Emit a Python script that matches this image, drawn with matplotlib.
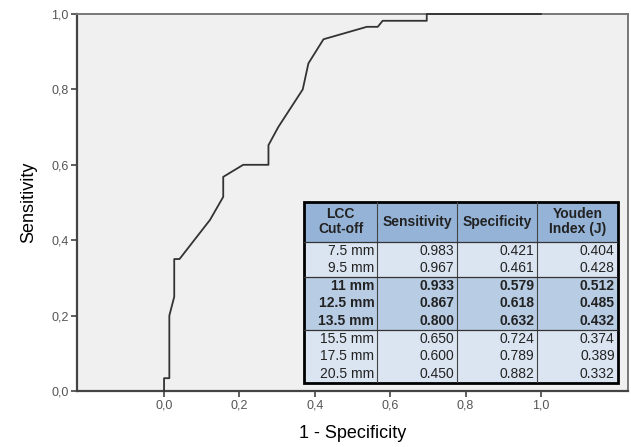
import numpy as np
import matplotlib.pyplot as plt
from matplotlib.patches import Rectangle

plt.rcParams['font.family'] = ['Liberation Sans', 'DejaVu Sans']

# ROC curve points
fpr = [0.0, 0.0, 0.014, 0.014, 0.027, 0.027, 0.041, 0.122, 0.157, 0.157,
       0.21, 0.277, 0.277, 0.303, 0.368, 0.383, 0.423, 0.538, 0.567, 0.58,
       0.697, 0.697, 1.0]
sens = [0.0, 0.034, 0.034, 0.20, 0.25, 0.35, 0.35, 0.454, 0.515, 0.568,
        0.60, 0.60, 0.652, 0.70, 0.80, 0.869, 0.933, 0.966, 0.966, 0.982,
        0.982, 1.0, 1.0]

# cut-off table
col_labels = ["LCC\nCut-off", "Sensitivity", "Specificity", "Youden\nIndex (J)"]
cutoffs = ["7.5 mm", "9.5 mm", "11 mm", "12.5 mm", "13.5 mm", "15.5 mm", "17.5 mm", "20.5 mm"]
tab_sens = [0.983, 0.967, 0.933, 0.867, 0.800, 0.650, 0.600, 0.450]
tab_spec = [0.421, 0.461, 0.579, 0.618, 0.632, 0.724, 0.789, 0.882]
tab_youden = [0.404, 0.428, 0.512, 0.485, 0.432, 0.374, 0.389, 0.332]
groups = [0, 0, 1, 1, 1, 2, 2, 2]

fig = plt.figure(figsize=(6.31, 4.47), dpi=100)
ax = fig.add_axes([77 / 631, 56 / 447, 551 / 631, 377 / 447])
ax.set_facecolor("#f0f0f0")
ax.plot(fpr, sens, color="#333333", lw=1.3, clip_on=False, zorder=5)
ax.set_xlim(-0.231, 1.231)
ax.set_ylim(0, 1.0)
ax.set_xticks([0, 0.2, 0.4, 0.6, 0.8, 1.0])
ax.set_xticklabels(["0,0", "0,2", "0,4", "0,6", "0,8", "1,0"])
ax.set_yticks([0, 0.2, 0.4, 0.6, 0.8, 1.0])
ax.set_yticklabels(["0,0", "0,2", "0,4", "0,6", "0,8", "1,0"])
ax.tick_params(labelsize=9, labelcolor="#555555", color="#444444", length=4, width=1.2, pad=2)
for s in ["left", "bottom"]:
    ax.spines[s].set_linewidth(1.6)
    ax.spines[s].set_color("#444444")
for s in ["top", "right"]:
    ax.spines[s].set_linewidth(1.4)
    ax.spines[s].set_color("#777777")
ax.set_xlabel("1 - Specificity", fontsize=13, labelpad=10)
ax.set_ylabel("Sensitivity", fontsize=13, labelpad=10)

# table drawn in pixel coordinates
tx0, ty_top, tx1, ty_bot = 304, 201.7, 617.7, 382.7
tab = fig.add_axes([tx0 / 631, (447 - ty_bot) / 447, (tx1 - tx0) / 631, (ty_bot - ty_top) / 447])
tab.set_xlim(tx0, tx1)
tab.set_ylim(ty_bot, ty_top)
tab.axis("off")
col_edges = [tx0, 377.3, 457.3, 537.3, tx1]
head_h = 40
row_h = (ty_bot - ty_top - head_h) / len(cutoffs)
group_col = ["#dbe5f1", "#b8cce4", "#dbe5f1"]

tab.add_patch(Rectangle((tx0, ty_top), tx1 - tx0, head_h, facecolor="#95b3d7", edgecolor="none"))
for i, g in enumerate(groups):
    y = ty_top + head_h + i * row_h
    tab.add_patch(Rectangle((tx0, y), tx1 - tx0, row_h, facecolor=group_col[g], edgecolor="none"))

for j, lab in enumerate(col_labels):
    cx = (col_edges[j] + col_edges[j + 1]) / 2
    tab.text(cx, ty_top + head_h / 2, lab, ha="center", va="center", fontsize=10,
             fontweight="bold", color="#222222", linespacing=1.1)

for i in range(len(cutoffs)):
    y = ty_top + head_h + (i + 0.5) * row_h
    w = "bold" if groups[i] == 1 else "normal"
    vals = [cutoffs[i], f"{tab_sens[i]:.3f}", f"{tab_spec[i]:.3f}", f"{tab_youden[i]:.3f}"]
    for j, v in enumerate(vals):
        tab.text(col_edges[j + 1] - 3, y, v, ha="right", va="center", fontsize=10,
                 fontweight=w, color="#222222")

for xe in col_edges[1:-1]:
    tab.plot([xe, xe], [ty_top, ty_bot], color="#444444", lw=0.8)
for k in [0, 2, 5]:
    y = ty_top + head_h + k * row_h
    tab.plot([tx0, tx1], [y, y], color="#333333", lw=0.9)
tab.add_patch(Rectangle((tx0, ty_top), tx1 - tx0, ty_bot - ty_top, facecolor="none",
                        edgecolor="black", lw=2.0, clip_on=False))

fig.savefig("out.png", dpi=100)
